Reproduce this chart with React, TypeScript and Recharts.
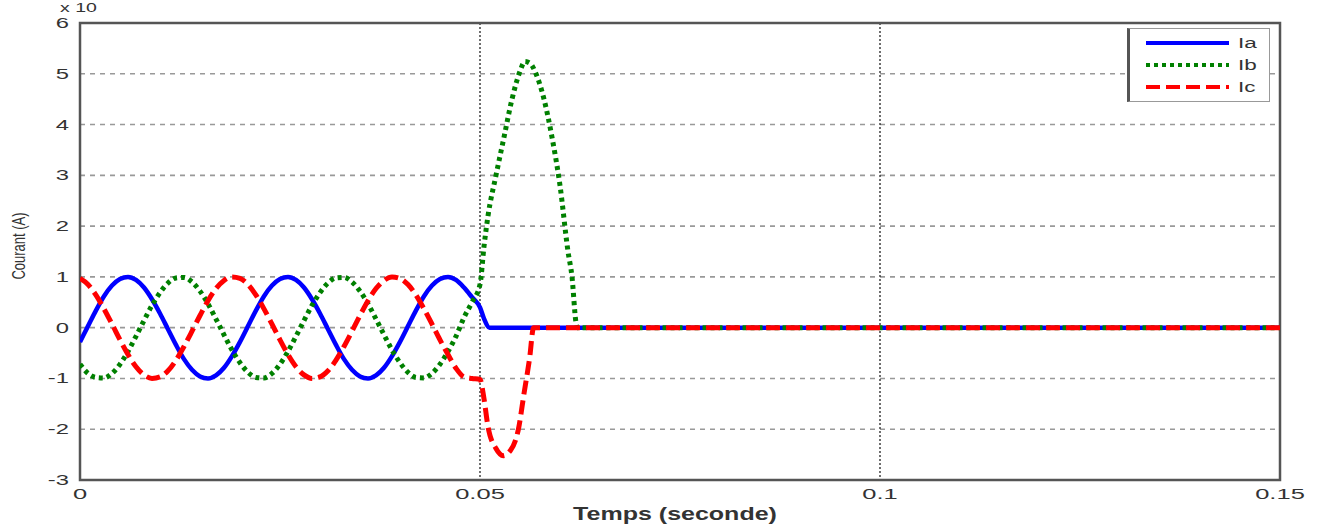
import React from 'react';
import { LineChart, Line, XAxis, YAxis, CartesianGrid, ReferenceArea } from 'recharts';

const xTicks = [0, 0.05, 0.1, 0.15];
const xTickLabels = ['0', '0.05', '0.1', '0.15'];
const yTicks = [-3, -2, -1, 0, 1, 2, 3, 4, 5, 6];

const baseTimes = [
  0, 0.001, 0.002, 0.003, 0.004, 0.005, 0.006, 0.007, 0.008, 0.009,
  0.01, 0.011, 0.012, 0.013, 0.014, 0.015, 0.016, 0.017, 0.018, 0.019,
  0.02, 0.021, 0.022, 0.023, 0.024, 0.025, 0.026, 0.027, 0.028, 0.029,
  0.03, 0.031, 0.032, 0.033, 0.034, 0.035, 0.036, 0.037, 0.038, 0.039,
  0.04, 0.041, 0.042, 0.043, 0.044, 0.045, 0.046, 0.047, 0.048, 0.049,
  0.05,
];

const iaTimes = [...baseTimes, 0.0505, 0.0512, 0.15];
const iaValues = [
  -0.28, 0.03, 0.34, 0.62, 0.83, 0.96, 1.0, 0.94, 0.79, 0.56,
  0.28, -0.03, -0.34, -0.62, -0.83, -0.96, -1.0, -0.94, -0.79, -0.56,
  -0.28, 0.03, 0.34, 0.62, 0.83, 0.96, 1.0, 0.94, 0.79, 0.56,
  0.28, -0.03, -0.34, -0.62, -0.83, -0.96, -1.0, -0.94, -0.79, -0.56,
  -0.28, 0.03, 0.34, 0.62, 0.83, 0.96, 1.0, 0.94, 0.79, 0.6,
  0.4, 0.18, 0, 0,
];

const ibTimes = [
  ...baseTimes, 0.0505, 0.051, 0.052, 0.053, 0.054, 0.055, 0.0556, 0.0563, 0.057,
  0.058, 0.059, 0.06, 0.061, 0.0615, 0.062, 0.0622, 0.15,
];
const ibValues = [
  -0.72, -0.9, -0.98, -0.99, -0.9, -0.72, -0.47, -0.17, 0.14, 0.44,
  0.69, 0.88, 0.98, 0.99, 0.9, 0.72, 0.47, 0.17, -0.14, -0.44,
  -0.69, -0.88, -0.98, -0.99, -0.9, -0.72, -0.47, -0.17, 0.14, 0.44,
  0.69, 0.88, 0.98, 0.99, 0.9, 0.72, 0.47, 0.17, -0.14, -0.44,
  -0.69, -0.88, -0.98, -0.99, -0.9, -0.72, -0.47, -0.17, 0.2, 0.5,
  0.85, 1.6, 2.2, 3.0, 3.75, 4.5, 5.05, 5.24, 5.2, 5.0,
  4.5, 3.75, 2.8, 1.5, 1.0, 0.1, 0, 0,
];

const icTimes = [
  ...baseTimes, 0.0505, 0.051, 0.052, 0.0529, 0.0538, 0.0548, 0.0555, 0.0562, 0.0567, 0.15,
];
const icValues = [
  0.97, 0.85, 0.64, 0.37, 0.07, -0.24, -0.53, -0.77, -0.93, -1.0,
  -0.97, -0.85, -0.64, -0.37, -0.07, 0.24, 0.53, 0.77, 0.93, 1.0,
  0.97, 0.85, 0.64, 0.37, 0.07, -0.24, -0.53, -0.77, -0.93, -1.0,
  -0.97, -0.85, -0.64, -0.37, -0.07, 0.24, 0.53, 0.77, 0.93, 1.0,
  0.97, 0.85, 0.64, 0.37, 0.07, -0.24, -0.53, -0.8, -0.97, -1.0,
  -1.02, -1.4, -1.95, -2.38, -2.52, -2.42, -2.0, -1.3, -0.6, 0, 0,
];

const seriesNames = ['Ia', 'Ib', 'Ic'];
const seriesColors = ['#0000ff', '#008000', '#ff0000'];
const seriesDash = ['', '4 4', '14 6'];

const toData = (times: number[], values: number[]) =>
  times.map((t, i) => ({ t, v: values[i] }));

const iaData = toData(iaTimes, iaValues);
const ibData = toData(ibTimes, ibValues);
const icData = toData(icTimes, icValues);

const FONT = '"Liberation Sans", Arial, sans-serif';
const TEXT = '#333';

const XTick = (props: any) => {
  const { x, y, payload } = props;
  const idx = xTicks.indexOf(payload.value);
  const label = idx >= 0 ? xTickLabels[idx] : String(payload.value);
  return (
    <text
      transform={`translate(${x},${y + 6}) scale(1.7,1)`}
      textAnchor="middle"
      dominantBaseline="central"
      fontSize={15}
      fill={TEXT}
      fontFamily={FONT}
    >
      {label}
    </text>
  );
};

const YTick = (props: any) => {
  const { x, y, payload } = props;
  return (
    <text
      transform={`translate(${x - 3},${y}) scale(1.7,1)`}
      textAnchor="end"
      dominantBaseline="central"
      fontSize={14}
      fill={TEXT}
      fontFamily={FONT}
    >
      {String(payload.value)}
    </text>
  );
};

export default function App() {
  return (
    <div style={{ position: 'absolute', left: 0, top: 0, width: 1322, height: 525, background: '#fff' }}>
      <LineChart width={1322} height={525} margin={{ top: 23, right: 42, bottom: 0, left: 0 }}>
        <CartesianGrid horizontal={true} vertical={false} stroke="#999" strokeWidth={1.6} strokeDasharray="5 5" />
        <CartesianGrid horizontal={false} vertical={true} stroke="#222" strokeWidth={1.3} strokeDasharray="2 2" />
        <XAxis
          type="number"
          dataKey="t"
          domain={[0, 0.15]}
          ticks={xTicks}
          allowDataOverflow
          height={45}
          tick={<XTick />}
          tickLine={false}
          axisLine={false}
          interval={0}
        />
        <YAxis
          type="number"
          domain={[-3, 6]}
          ticks={yTicks}
          allowDataOverflow
          width={80}
          tick={<YTick />}
          tickLine={false}
          axisLine={false}
          interval={0}
        />
        <ReferenceArea x1={0} x2={0.15} y1={-3} y2={6} fill="none" stroke="#555" strokeWidth={2.5} ifOverflow="visible" />
        <Line data={iaData} dataKey="v" name={seriesNames[0]} type="monotone" stroke={seriesColors[0]} strokeWidth={4.5} dot={false} isAnimationActive={false} />
        <Line data={ibData} dataKey="v" name={seriesNames[1]} type="monotone" stroke={seriesColors[1]} strokeWidth={5} strokeDasharray={seriesDash[1]} dot={false} isAnimationActive={false} />
        <Line data={icData} dataKey="v" name={seriesNames[2]} type="monotone" stroke={seriesColors[2]} strokeWidth={5} strokeDasharray={seriesDash[2]} dot={false} isAnimationActive={false} />
      </LineChart>

      <svg width={1322} height={525} style={{ position: 'absolute', left: 0, top: 0, pointerEvents: 'none' }}>
        <text transform="translate(60,12) scale(1.5,1)" fontSize={13} fill={TEXT} fontFamily={FONT}>x 10</text>
        <text transform="translate(675,520) scale(1.39,1)" textAnchor="middle" fontSize={18} fontWeight="bold" fill={TEXT} fontFamily={FONT}>Temps (seconde)</text>
        <text transform="translate(18,246) scale(1.45,1) rotate(-90)" textAnchor="middle" dominantBaseline="central" fontSize={13} fill={TEXT} fontFamily={FONT}>Courant (A)</text>
      </svg>

      <div
        style={{
          position: 'absolute', left: 1127, top: 28, width: 143, height: 74, background: '#fff',
          border: '1px solid #999', borderLeft: '3px solid #555', boxSizing: 'border-box',
        }}
      >
        <svg width={140} height={72} style={{ position: 'absolute', left: 0, top: 0 }}>
          {seriesNames.map((name, i) => (
            <g key={name}>
              <line x1={16} x2={99} y1={14 + i * 22} y2={14 + i * 22} stroke={seriesColors[i]} strokeWidth={4} strokeDasharray={seriesDash[i] || undefined} />
              <text transform={`translate(108,${14 + i * 22}) scale(1.5,1)`} dominantBaseline="central" fontSize={15} fill={TEXT} fontFamily={FONT}>{name}</text>
            </g>
          ))}
        </svg>
      </div>
    </div>
  );
}
